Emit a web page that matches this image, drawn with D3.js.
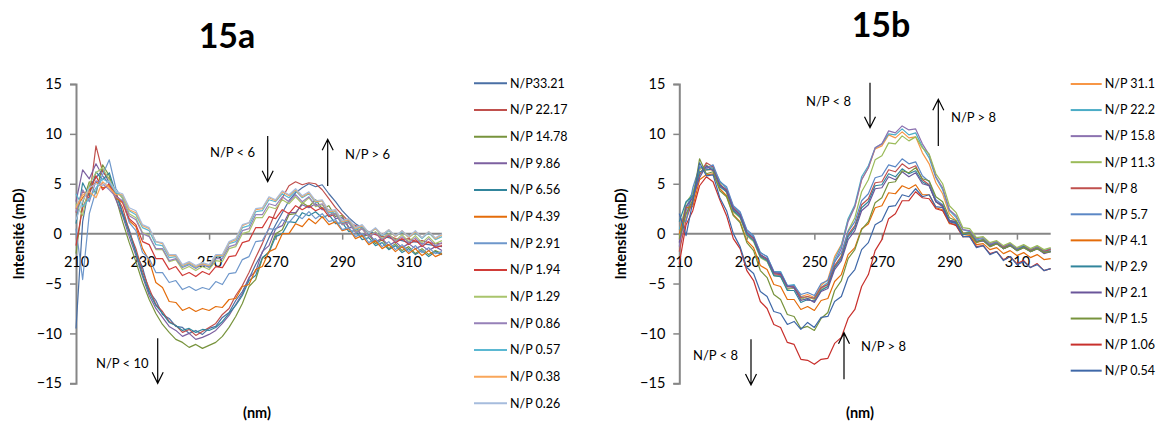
<!DOCTYPE html>
<html><head><meta charset="utf-8">
<script src="https://cdn.jsdelivr.net/npm/d3@7"></script>
<style>
body{margin:0;background:#fff;}
text{font-family:Lato,"Open Sans",sans-serif;}
</style></head>
<body><svg id="c" width="1157" height="423"></svg>
<script>
// wavelengths (nm)
const wavelengths = [210,212,214,216,218,220,222,224,226,228,230,232,234,236,238,240,242,244,246,248,250,252,254,256,258,260,262,264,266,268,270,272,274,276,278,280,282,284,286,288,290,292,294,296,298,300,302,304,306,308,310,312,314,316,318,320];
const xTicks = [210,230,250,270,290,310];
const yTicks = [-15,-10,-5,0,5,10,15];

// ---- 15a ----
const labelsA = ["N/P33.21","N/P 22.17","N/P 14.78","N/P 9.86","N/P 6.56","N/P 4.39","N/P 2.91","N/P 1.94","N/P 1.29","N/P 0.86","N/P 0.57","N/P 0.38","N/P 0.26"];
const a3321 = [-9.5,1.2,4.8,5.6,6.4,5.1,4.2,2.1,0.4,-1.9,-3.4,-5.8,-6.7,-8.1,-8.5,-9.3,-9.4,-10.0,-9.7,-10.1,-9.5,-9.3,-8.4,-7.9,-6.7,-5.8,-4.5,-3.1,-1.9,-0.4,0.9,2.1,3.3,4.1,4.6,5.0,4.7,4.9,4.0,3.2,2.3,1.6,1.0,0.6,0.2,0.0,-0.3,-0.4,-0.6,-0.7,-0.9,-0.8,-1.0,-1.1,-1.2,-1.3];
const a2217 = [2.1,4.3,3.5,8.8,6.2,5.5,3.9,2.6,0.2,-1.5,-3.8,-5.5,-7.1,-7.8,-8.8,-9.2,-9.9,-9.6,-10.2,-9.8,-9.4,-9.0,-8.1,-7.5,-6.2,-5.2,-3.9,-2.4,-1.0,0.6,2.2,3.6,4.8,5.2,4.9,5.1,5.0,4.4,3.5,2.6,1.9,1.2,0.8,0.5,0.1,-0.1,-0.3,-0.2,-0.5,-0.6,-0.5,-0.8,-0.7,-0.9,-1.0,-1.0];
const a1478 = [-2.0,3.1,5.2,4.0,6.9,5.8,3.6,1.2,-0.9,-2.8,-4.9,-6.6,-8.0,-9.1,-9.9,-10.6,-10.9,-11.4,-11.1,-11.5,-11.2,-10.9,-10.3,-9.4,-8.3,-7.0,-5.3,-4.6,-2.5,-1.8,0.0,0.4,1.9,2.0,3.1,2.7,3.4,2.5,2.8,1.7,1.8,0.6,0.7,-0.3,-0.1,-1.0,-0.6,-1.5,-1.0,-1.7,-1.3,-2.0,-1.5,-2.1,-1.7,-2.0];
const a986 = [3.2,6.4,5.5,7.0,5.8,5.0,3.4,1.8,-0.3,-2.2,-4.3,-6.2,-7.5,-8.4,-9.3,-9.7,-10.3,-10.0,-10.6,-10.4,-10.1,-9.7,-9.0,-8.2,-7.1,-6.0,-4.4,-3.8,-1.8,-1.2,0.5,0.8,2.1,2.1,2.9,2.6,3.0,2.4,2.4,1.5,1.6,0.6,0.6,-0.2,0.0,-0.8,-0.5,-1.2,-0.8,-1.4,-1.0,-1.5,-1.2,-1.7,-1.3,-1.7];
const a656 = [1.0,5.1,3.8,6.2,5.4,6.1,4.0,2.0,0.1,-1.9,-4.1,-5.9,-7.2,-8.0,-8.9,-9.2,-9.7,-9.5,-9.9,-9.6,-9.7,-9.4,-8.8,-8.0,-7.2,-6.2,-4.7,-4.2,-2.4,-1.9,-0.3,0.0,1.2,1.1,2.1,1.8,2.2,1.6,1.9,1.0,1.1,0.2,0.3,-0.6,-0.4,-1.2,-0.9,-1.6,-1.2,-1.9,-1.5,-2.1,-1.7,-2.3,-1.8,-2.1];
const a439 = [2.5,3.6,4.4,5.2,4.6,4.8,3.6,3.1,1.3,0.7,-1.5,-2.7,-4.9,-5.4,-6.8,-6.9,-7.7,-7.4,-7.8,-7.5,-7.7,-7.3,-7.4,-6.6,-6.5,-5.3,-5.1,-3.6,-3.3,-1.8,-1.5,0.0,0.0,1.0,0.7,1.5,1.0,1.7,0.9,1.2,0.3,0.5,-0.5,-0.2,-1.1,-0.7,-1.5,-1.1,-1.8,-1.3,-2.0,-1.5,-2.2,-1.7,-2.3,-2.0];
const a291 = [0.5,-4.6,2.0,4.3,5.9,7.4,4.5,3.5,1.1,0.3,-1.9,-2.5,-3.9,-3.9,-4.9,-4.7,-5.6,-5.3,-5.7,-5.4,-5.6,-4.8,-5.1,-4.0,-3.9,-2.6,-2.3,-0.8,-0.7,0.5,0.4,1.4,1.1,1.9,1.5,2.2,1.5,2.0,1.2,1.4,0.4,0.6,-0.3,0.0,-0.9,-0.5,-1.3,-0.8,-1.6,-1.1,-1.8,-1.2,-1.9,-1.4,-2.0,-1.8];
const a194 = [-1.2,2.6,4.1,5.8,4.4,5.0,3.8,3.2,1.5,0.9,-0.8,-1.1,-2.5,-2.5,-3.6,-3.3,-4.2,-3.9,-4.3,-3.8,-4.1,-3.3,-3.4,-2.3,-2.2,-0.9,-0.7,0.6,0.6,1.7,1.5,2.4,2.0,2.8,2.4,2.8,2.3,2.6,1.7,2.0,1.0,1.2,0.2,0.5,-0.3,0.1,-0.7,-0.2,-0.9,-0.5,-1.1,-0.6,-1.3,-0.8,-1.4,-1.2];
const a129 = [3.0,1.8,5.0,6.1,6.6,5.4,4.2,3.6,2.0,1.6,0.1,-0.2,-1.6,-1.6,-2.8,-2.6,-3.6,-3.3,-3.7,-3.3,-3.6,-2.7,-2.8,-1.5,-1.3,0.0,0.2,1.6,1.6,2.7,2.5,3.4,3.0,3.7,3.0,3.6,2.7,2.9,1.9,2.0,0.9,1.1,0.2,0.5,-0.3,0.2,-0.5,0.0,-0.7,-0.1,-0.8,-0.2,-0.9,-0.3,-1.0,-0.7];
const a086 = [2.2,4.4,3.2,5.3,5.0,4.4,3.7,3.3,1.8,1.4,0.0,-0.3,-1.5,-1.5,-2.7,-2.5,-3.4,-3.1,-3.5,-3.1,-3.4,-2.5,-2.5,-1.3,-1.1,0.3,0.5,1.9,1.9,3.0,2.8,3.7,3.2,3.9,3.2,3.7,2.8,3.0,1.9,2.0,0.9,1.1,0.1,0.5,-0.3,0.1,-0.6,-0.1,-0.8,-0.3,-0.9,-0.4,-1.1,-0.5,-1.2,-0.9];
const a057 = [4.0,2.7,3.5,4.6,5.5,5.1,4.1,3.8,2.3,1.9,0.6,0.3,-1.1,-1.2,-2.4,-2.3,-3.3,-3.0,-3.4,-3.0,-3.3,-2.3,-2.3,-1.0,-0.8,0.6,0.8,2.2,2.3,3.4,3.2,4.0,3.6,4.3,3.6,4.0,3.1,3.3,2.1,2.2,1.1,1.3,0.4,0.7,0.0,0.5,-0.2,0.3,-0.3,0.2,-0.4,0.1,-0.5,0.1,-0.6,-0.3];
const a038 = [2.6,3.9,4.2,3.6,5.2,4.6,3.9,3.9,2.4,2.1,0.8,0.5,-0.8,-1.0,-2.2,-2.2,-3.2,-2.9,-3.3,-3.0,-3.2,-2.2,-2.2,-0.9,-0.6,0.8,1.1,2.4,2.5,3.6,3.3,4.2,3.8,4.4,3.7,4.1,3.2,3.3,2.2,2.3,1.2,1.4,0.5,0.8,0.1,0.5,-0.1,0.4,-0.3,0.3,-0.4,0.2,-0.4,0.2,-0.5,-0.1];
const a026 = [1.4,3.3,4.6,5.0,4.8,5.3,4.2,4.0,2.6,2.3,0.9,0.6,-0.8,-0.9,-2.1,-2.1,-3.1,-2.8,-3.2,-2.9,-3.1,-2.1,-2.1,-0.8,-0.5,0.9,1.1,2.5,2.6,3.7,3.4,4.3,3.9,4.5,3.8,4.2,3.3,3.4,2.3,2.4,1.3,1.5,0.6,0.9,0.1,0.6,-0.1,0.4,-0.2,0.3,-0.3,0.3,-0.4,0.2,-0.4,0.0];
const colorsA = ["#4a6fa5","#c0504d","#77933c","#7d60a0","#31859c","#e46c0a","#6e97cb","#d03c38","#a9c46c","#9681b8","#5bb8d2","#f9a65a","#a6bcdd"];

// ---- 15b ----
const labelsB = ["N/P 31.1","N/P 22.2","N/P 15.8","N/P 11.3","N/P 8","N/P 5.7","N/P 4.1","N/P 2.9","N/P 2.1","N/P 1.5","N/P 1.06","N/P 0.54"];
const b311 = [-0.6,1.9,3.1,6.2,6.4,6.4,5.0,4.2,2.3,1.7,0.1,-0.6,-2.1,-2.6,-3.9,-4.1,-5.3,-5.3,-6.3,-6.1,-6.4,-5.2,-4.6,-2.3,-1.1,1.4,2.7,5.4,6.6,8.5,8.8,9.9,9.6,10.2,9.6,9.7,8.1,7.0,5.1,4.0,2.0,1.3,0.1,-0.1,-0.9,-0.7,-1.3,-1.0,-1.5,-1.2,-1.6,-1.3,-1.7,-1.5,-1.8,-1.6];
const b222 = [0.4,2.6,4.2,5.9,6.7,6.6,5.3,4.5,2.7,2.1,0.3,-0.3,-1.9,-2.3,-3.8,-3.8,-5.2,-5.1,-6.3,-6.5,-6.4,-5.4,-4.9,-2.6,-1.2,1.5,2.9,5.7,6.8,8.6,9.0,10.0,9.9,10.5,9.9,10.1,8.7,7.6,5.6,4.4,2.3,1.6,0.4,0.2,-0.6,-0.5,-1.1,-0.8,-1.4,-1.0,-1.5,-1.2,-1.6,-1.3,-1.7,-1.5];
const b158 = [-1.3,2.3,3.7,6.6,6.5,6.8,4.8,4.3,2.5,1.8,-0.1,-0.6,-2.3,-2.7,-4.1,-4.2,-5.5,-5.5,-6.5,-6.7,-6.7,-5.5,-5.1,-2.9,-1.5,1.2,2.7,5.4,6.6,8.6,9.0,10.3,10.1,10.8,10.4,10.5,9.0,7.9,5.7,4.6,2.4,1.8,0.4,0.3,-0.5,-0.4,-1.0,-0.8,-1.3,-1.0,-1.5,-1.2,-1.7,-1.3,-1.8,-1.5];
const b113 = [-0.2,3.1,4.1,6.4,6.9,6.3,5.1,4.1,2.2,1.6,-0.2,-0.8,-2.4,-2.8,-4.2,-4.3,-5.6,-5.4,-6.6,-6.3,-6.6,-5.6,-5.3,-3.3,-2.2,0.3,1.6,4.2,5.4,7.4,7.8,9.1,9.0,9.8,9.3,9.7,8.6,8.0,6.0,5.0,2.8,2.1,0.6,0.5,-0.4,-0.3,-0.9,-0.7,-1.2,-0.9,-1.4,-1.1,-1.5,-1.2,-1.6,-1.4];
const b8 = [-1.8,1.4,3.3,5.9,7.1,6.7,4.9,4.4,2.6,1.9,0.1,-0.5,-2.2,-2.6,-4.0,-4.1,-5.3,-5.3,-6.4,-6.3,-6.5,-5.4,-5.1,-3.2,-2.3,-0.1,0.8,2.9,3.5,5.1,5.2,6.4,6.2,7.0,6.5,6.8,5.4,4.9,3.2,2.7,1.2,1.1,-0.1,0.1,-0.8,-0.6,-1.2,-0.9,-1.4,-1.1,-1.6,-1.3,-1.7,-1.4,-1.8,-1.6];
const b57 = [1.6,1.2,4.6,6.7,6.6,6.9,5.2,4.7,2.8,2.2,0.4,-0.2,-1.9,-2.3,-3.8,-3.9,-5.2,-5.2,-6.1,-5.9,-6.2,-5.0,-4.7,-2.8,-1.9,0.2,1.2,3.3,4.0,5.6,5.8,6.9,6.7,7.5,7.0,7.2,5.8,5.2,3.4,2.9,1.3,1.2,0.0,0.1,-0.8,-0.6,-1.2,-0.9,-1.5,-1.1,-1.6,-1.3,-1.8,-1.4,-1.9,-1.7];
const b41 = [0.0,2.6,2.7,5.4,5.9,6.0,4.5,3.8,1.9,1.2,-0.7,-1.4,-3.2,-3.6,-5.1,-5.3,-6.6,-6.6,-7.6,-7.3,-7.7,-6.7,-6.5,-4.8,-4.1,-2.1,-1.4,0.5,1.0,2.6,2.8,4.1,4.0,4.8,4.5,4.9,3.9,3.9,2.6,2.4,1.0,0.9,-0.3,-0.2,-1.1,-1.0,-1.6,-1.4,-2.0,-1.7,-2.2,-1.9,-2.4,-2.1,-2.6,-2.5];
const b29 = [1.2,3.2,3.8,6.2,6.4,6.5,4.7,4.2,2.3,1.7,-0.1,-0.7,-2.3,-2.7,-4.2,-4.3,-5.7,-5.7,-6.9,-6.6,-6.8,-5.7,-5.3,-3.4,-2.5,-0.3,0.6,2.6,3.2,4.8,4.9,6.0,5.7,6.5,6.0,6.3,5.2,4.8,3.2,2.8,1.3,1.1,-0.1,0.0,-0.8,-0.7,-1.3,-1.0,-1.5,-1.2,-1.7,-1.3,-1.8,-1.5,-1.9,-1.8];
const b21 = [-0.9,2.7,3.6,5.6,6.8,6.3,4.9,4.3,2.5,1.9,0.1,-0.4,-2.1,-2.5,-3.9,-4.0,-5.3,-5.4,-6.7,-6.5,-6.9,-5.8,-5.5,-3.6,-2.7,-0.6,0.3,2.3,2.9,4.5,4.6,5.7,5.4,6.2,5.7,6.1,5.0,4.8,3.2,2.8,1.3,1.2,0.0,0.1,-0.8,-0.7,-1.2,-1.0,-1.5,-1.2,-1.7,-1.4,-1.8,-1.5,-2.0,-1.8];
const b15 = [-0.5,2.0,3.4,7.5,6.0,6.2,4.3,3.7,1.8,1.1,-0.9,-1.7,-3.7,-4.4,-6.1,-6.6,-8.1,-8.3,-9.5,-9.3,-9.7,-8.5,-7.9,-5.7,-4.7,-2.5,-1.6,0.4,1.2,3.1,3.6,5.1,5.2,6.3,6.1,6.6,5.5,5.3,3.7,3.2,1.6,1.3,0.0,0.1,-0.9,-0.6,-1.3,-1.0,-1.5,-1.2,-1.7,-1.4,-1.8,-1.5,-1.9,-1.8];
const b106 = [-3.0,0.9,2.3,4.8,5.7,5.2,3.4,1.8,-0.5,-1.5,-3.7,-4.7,-6.8,-7.5,-9.1,-9.4,-10.9,-11.1,-12.6,-12.7,-13.1,-12.6,-12.5,-11.0,-10.4,-8.5,-7.6,-5.3,-4.1,-1.7,-0.6,1.5,2.0,3.3,3.3,4.2,3.6,3.5,2.5,2.3,1.1,0.8,-0.3,-0.3,-1.3,-1.2,-2.0,-1.8,-2.6,-2.3,-3.0,-2.7,-3.4,-3.0,-3.7,-3.5];
const b054 = [2.0,-0.2,3.2,7.1,5.8,5.9,3.6,2.3,0.0,-1.3,-3.4,-4.0,-5.8,-6.3,-7.8,-8.0,-9.1,-8.8,-9.6,-8.9,-9.4,-8.4,-8.3,-6.8,-6.3,-4.4,-3.6,-1.6,-0.9,0.9,1.3,2.7,2.8,3.9,3.7,4.5,3.7,3.9,2.7,2.6,1.2,1.0,-0.3,-0.3,-1.4,-1.2,-2.1,-1.8,-2.7,-2.3,-3.1,-2.8,-3.4,-3.1,-3.7,-3.5];
const colorsB = ["#f79646","#4bacc6","#8c72b0","#9bbb59","#c0504d","#5b87c5","#e46c0a","#31859c","#6a559a","#77933c","#c8302c","#3f68a8"];

const seriesA = [a3321,a2217,a1478,a986,a656,a439,a291,a194,a129,a086,a057,a038,a026];
const seriesB = [b311,b222,b158,b113,b8,b57,b41,b29,b21,b15,b106,b054];

const svg = d3.select("#c");
const axisColor = "#868686";

function panel(cfg){
  const x = d3.scaleLinear().domain([210,320]).range([cfg.x0, cfg.x1]);
  const y = d3.scaleLinear().domain([-15,15]).range([383.3, 84]);
  const g = svg.append("g");
  const ya = g.append("g").attr("transform",`translate(${cfg.x0},0)`)
    .call(d3.axisLeft(y).tickValues(yTicks).tickSize(6).tickPadding(8).tickFormat(d3.format("d")));
  const xa = g.append("g").attr("transform",`translate(0,${y(0)})`)
    .call(d3.axisBottom(x).tickValues(xTicks).tickSize(6).tickPadding(17));
  [ya,xa].forEach(a=>{
    a.select(".domain").attr("stroke",axisColor).attr("stroke-width",2);
    a.selectAll(".tick line").attr("stroke",axisColor).attr("stroke-width",1.5);
    a.selectAll(".tick text").attr("fill","#000").style("font-size","14.5px").style("font-family","Lato, sans-serif");
  });
  xa.select(".domain").attr("d",`M${cfg.x0},0H${cfg.x1}`);
  const line = d3.line().x((d,i)=>x(wavelengths[i])).y(d=>y(d));
  cfg.series.forEach((s,i)=>{
    g.append("path").attr("d",line(s)).attr("fill","none")
      .attr("stroke",cfg.colors[i]).attr("stroke-width",1.2).attr("stroke-linejoin","round");
  });
  g.append("text").attr("x",cfg.titleX).attr("y",cfg.titleY).attr("text-anchor","middle")
    .style("font-size","34px").style("font-weight","bold").text(cfg.title);
  g.append("text").attr("transform",`translate(${cfg.yLabX},234) rotate(-90)`).attr("text-anchor","middle")
    .attr("dy","0.35em").style("font-size","14.5px").style("font-weight","bold").text("Intensité (mD)");
  g.append("text").attr("x",cfg.xLabX).attr("y",418).attr("text-anchor","middle")
    .style("font-size","14.5px").style("font-weight","bold").text("(nm)");
  cfg.labels.forEach((lab,i)=>{
    const ly = cfg.legY0 + i*cfg.legDy;
    g.append("line").attr("x1",cfg.legX).attr("x2",cfg.legX+cfg.legLen).attr("y1",ly).attr("y2",ly)
      .attr("stroke",cfg.colors[i]).attr("stroke-width",2);
    g.append("text").attr("x",cfg.legX+cfg.legLen+3).attr("y",ly).attr("dy","0.35em")
      .style("font-size","12.5px").text(lab);
  });
  cfg.notes.forEach(n=>{
    g.append("text").attr("x",n.x).attr("y",n.y).style("font-size","13px").text(n.t);
  });
  cfg.arrows.forEach(a=>{
    const dir = a.y2 > a.y1 ? 1 : -1;
    g.append("path").attr("d",`M${a.x},${a.y1}V${a.y2}M${a.x-5.5},${a.y2-dir*11}L${a.x},${a.y2}L${a.x+5.5},${a.y2-dir*11}`)
      .attr("fill","none").attr("stroke","#000").attr("stroke-width",1.2);
  });
}

panel({x0:76,x1:442,series:seriesA,colors:colorsA,labels:labelsA,title:"15a",titleX:227,titleY:48,
  yLabX:19,xLabX:257,legX:474,legLen:33,legY0:83.3,legDy:26.67,
  notes:[{x:210,y:157,t:"N/P < 6"},{x:345,y:159,t:"N/P > 6"},{x:96,y:368,t:"N/P < 10"}],
  arrows:[{x:267.7,y1:136,y2:181.7},{x:327.7,y1:186,y2:139.3},{x:157.7,y1:338.3,y2:383.3}]});

panel({x0:679.3,x1:1050.7,series:seriesB,colors:colorsB,labels:labelsB,title:"15b",titleX:881,titleY:37,
  yLabX:621,xLabX:860,legX:1070.7,legLen:31,legY0:84,legDy:26.06,
  notes:[{x:806,y:106,t:"N/P < 8"},{x:951,y:122,t:"N/P > 8"},{x:693,y:359.5,t:"N/P < 8"},{x:861,y:350.5,t:"N/P > 8"}],
  arrows:[{x:870,y1:82.7,y2:127.7},{x:938.3,y1:146,y2:99.3},{x:751,y1:339.3,y2:385},{x:844,y1:379.3,y2:332.7}]});
</script></body></html>
